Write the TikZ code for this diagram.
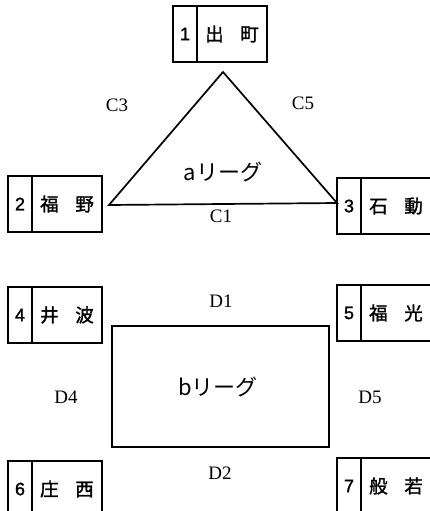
\documentclass[tikz,border=0pt]{standalone}
\usepackage{fontspec}
\setmainfont{Liberation Serif}
\newfontfamily\jpfont[FakeBold=1.5]{Noto Sans CJK JP}
\newfontfamily\leaguefont{Noto Sans CJK JP}
\newfontfamily\numfont[FakeBold=1.5]{Liberation Sans}
\begin{document}
\begin{tikzpicture}[x=1pt,y=-1pt,
  numcell/.style={draw,line width=1.5pt,minimum width=24pt,minimum height=56pt,inner sep=0pt,outer sep=0pt,font=\numfont\fontsize{18}{18}\selectfont},
  namecell/.style={draw,line width=1.5pt,minimum width=70pt,minimum height=56pt,inner sep=0pt,outer sep=0pt,anchor=west,font=\jpfont\fontsize{18.5}{18.5}\selectfont},
  clabel/.style={font=\fontsize{19}{19}\selectfont},
  league/.style={font=\leaguefont\fontsize{22}{22}\selectfont},
  shape line/.style={line width=1.7pt,line join=miter}]
\useasboundingbox (0,0) rectangle (430,511);
\clip (0,0) rectangle (430,511);
% team boxes
\node[numcell] (n1) at (185,34) {1};
\node[namecell] (t1) at (n1.east) {出\hspace{0.9em}町};
\node[numcell] (n2) at (20,204) {2};
\node[namecell] (t2) at (n2.east) {福\hspace{0.9em}野};
\node[numcell] (n3) at (349,206) {3};
\node[namecell] (t3) at (n3.east) {石\hspace{0.9em}動};
\node[numcell] (n4) at (20,315) {4};
\node[namecell] (t4) at (n4.east) {井\hspace{0.9em}波};
\node[numcell] (n5) at (349,313) {5};
\node[namecell] (t5) at (n5.east) {福\hspace{0.9em}光};
\node[numcell] (n6) at (20,489) {6};
\node[namecell] (t6) at (n6.east) {庄\hspace{0.9em}西};
\node[numcell] (n7) at (349,486) {7};
\node[namecell] (t7) at (n7.east) {般\hspace{0.9em}若};
% a league triangle
\coordinate (apex) at (223,72);
\coordinate (bl) at (109,205);
\coordinate (br) at (337,203);
\draw[shape line] (apex) -- (bl) -- (br) -- cycle;
\node[league] (aL) at (223,172) {aリーグ};
\node[clabel] (c3) at (117,105) {C3};
\node[clabel] (c5) at (303,103) {C5};
\node[clabel] (c1) at (221,216) {C1};
% b league rectangle
\node[draw,line width=1.7pt,minimum width=217pt,minimum height=121pt,inner sep=0pt] (bbox) at (220.5,386.5) {};
\node[league] (bL) at (218,387) {bリーグ};
\node[clabel] (d1) at (221,301) {D1};
\node[clabel] (d2) at (220,473) {D2};
\node[clabel] (d4) at (66,397) {D4};
\node[clabel] (d5) at (370,397) {D5};
\end{tikzpicture}
\end{document}
